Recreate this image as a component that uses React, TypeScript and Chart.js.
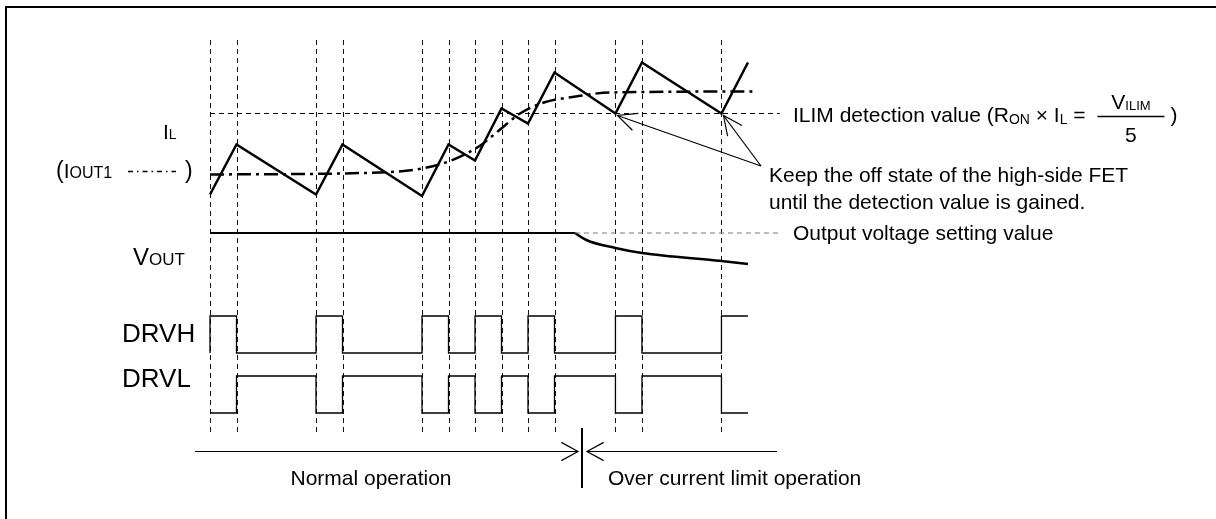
import React, { useEffect, useRef } from "react";
import { Chart, registerables } from "chart.js";

Chart.register(...registerables);

// ---- time grid (switching instants, arbitrary time units) ----
const GUIDE_T = [0, 1, 4, 5, 8, 9, 10, 11, 12, 13, 15.3, 16.3, 19.3];

// ---- inductor current IL (arbitrary units) ----
const IL_T = [0, 1, 4, 5, 8, 9, 10, 11, 12, 13, 15.3, 16.3, 19.3, 20.3];
const IL_A = [1.0, 2.0, 1.0, 2.0, 0.97, 2.0, 1.68, 2.72, 2.42, 3.44, 2.62, 3.64, 2.62, 3.64];

// ---- output current IOUT1 (dash-dot) ----
const IOUT_T = [0, 6.4, 8, 9.1, 10.2, 10.9, 11.7, 12.6, 13.8, 15.1, 20.6];
const IOUT_A = [1.4, 1.44, 1.52, 1.68, 1.98, 2.28, 2.62, 2.84, 2.96, 3.04, 3.06];

// ---- ILIM detection level ----
const ILIM_LEVEL = 2.62;
const ILIM_T = [0, 21.5];

// ---- output voltage ----
const VOUT_T = [0, 13.77, 14.2, 15.3, 16.3, 19.3, 20.3];
const VOUT_V = [1.0, 1.0, 0.93, 0.85, 0.8, 0.72, 0.69];
const VSET_LEVEL = 1.0;
const VSET_T = [13.77, 21.5];

// ---- gate drive signals (logic level) ----
const DRVH_T = [0, 0, 1, 4, 5, 8, 9, 10, 11, 12, 13, 15.3, 16.3, 19.3, 20.3];
const DRVH_S = [0, 1, 0, 1, 0, 1, 0, 1, 0, 1, 0, 1, 0, 1, 1];
const DRVL_T = [0, 1, 4, 5, 8, 9, 10, 11, 12, 13, 15.3, 16.3, 19.3, 20.3];
const DRVL_S = [0, 1, 0, 1, 0, 1, 0, 1, 0, 1, 0, 1, 0, 0];

// ---- text ----
const LABEL_NORMAL = "Normal operation";
const LABEL_OCL = "Over current limit operation";
const LABEL_KEEP1 = "Keep the off state of the high-side FET";
const LABEL_KEEP2 = "until the detection value is gained.";
const LABEL_VSET = "Output voltage setting value";

const FONT = '"Liberation Sans", Arial, Helvetica, sans-serif';

const pts = (xs: number[], ys: number[]) => xs.map((x, i) => ({ x, y: ys[i] }));

function runs(ctx: CanvasRenderingContext2D, x: number, y: number, parts: [string, number, number][]) {
  let cx = x;
  for (const [text, size, dy] of parts) {
    ctx.font = `${size}px ${FONT}`;
    ctx.fillText(text, cx, y + dy);
    cx += ctx.measureText(text).width;
  }
  return cx;
}

function arrowHead(ctx: CanvasRenderingContext2D, tx: number, ty: number, fx: number, fy: number, len: number, half: number) {
  const a = Math.atan2(fy - ty, fx - tx);
  ctx.beginPath();
  ctx.moveTo(tx + len * Math.cos(a + half), ty + len * Math.sin(a + half));
  ctx.lineTo(tx, ty);
  ctx.lineTo(tx + len * Math.cos(a - half), ty + len * Math.sin(a - half));
  ctx.stroke();
}

const guidePlugin = {
  id: "guides",
  beforeDatasetsDraw(chart: any) {
    const ctx: CanvasRenderingContext2D = chart.ctx;
    const xs = chart.scales.x;
    ctx.save();
    ctx.strokeStyle = "#111";
    ctx.lineWidth = 1;
    ctx.setLineDash([5, 4]);
    for (const t of GUIDE_T) {
      const x = Math.round(xs.getPixelForValue(t)) + 0.5;
      ctx.beginPath();
      ctx.moveTo(x, 40);
      ctx.lineTo(x, 434);
      ctx.stroke();
    }
    ctx.restore();
  },
  afterDraw(chart: any) {
    const ctx: CanvasRenderingContext2D = chart.ctx;
    const xs = chart.scales.x;
    const yI = chart.scales.yI;
    ctx.save();
    ctx.fillStyle = "#000";
    ctx.strokeStyle = "#000";
    ctx.textBaseline = "alphabetic";

    // frame (top + left)
    ctx.lineWidth = 2;
    ctx.beginPath();
    ctx.moveTo(1216, 7);
    ctx.lineTo(6, 7);
    ctx.lineTo(6, 519);
    ctx.stroke();

    // left labels
    runs(ctx, 163, 139, [["I", 21, 0], ["L", 14, 0]]);
    const endI = runs(ctx, 56, 178, [["(", 23, 0], ["I", 21, 0], ["OUT1", 16, 0]]);
    ctx.lineWidth = 1.5;
    ctx.setLineDash([5, 4, 1.5, 4]);
    ctx.beginPath();
    ctx.moveTo(Math.max(endI + 7, 128), 171.5);
    ctx.lineTo(176, 171.5);
    ctx.stroke();
    ctx.setLineDash([]);
    runs(ctx, 185, 178, [[")", 23, 0]]);
    runs(ctx, 133, 265, [["V", 24, 0], ["OUT", 17, 0]]);
    runs(ctx, 122, 342, [["DRVH", 26, 0]]);
    runs(ctx, 122, 387, [["DRVL", 26, 0]]);

    // ILIM text with fraction
    const yIl = yI.getPixelForValue(ILIM_LEVEL);
    const base = yIl + 8.5;
    const xe = runs(ctx, 793, base, [
      ["ILIM detection value (R", 21, 0],
      ["ON", 14, 2],
      [" \u00d7 I", 21, 0],
      ["L", 14, 2],
      [" = ", 21, 0],
    ]);
    const b0 = xe + 6, b1 = xe + 73, bc = (b0 + b1) / 2;
    ctx.lineWidth = 1.5;
    ctx.beginPath();
    ctx.moveTo(b0, yIl + 3);
    ctx.lineTo(b1, yIl + 3);
    ctx.stroke();
    ctx.font = `21px ${FONT}`;
    const wV = ctx.measureText("V").width;
    ctx.font = `13px ${FONT}`;
    const wS = ctx.measureText("ILIM").width;
    runs(ctx, bc - (wV + wS) / 2, yIl - 5, [["V", 21, 0], ["ILIM", 13, 1]]);
    ctx.textAlign = "center";
    ctx.font = `21px ${FONT}`;
    ctx.fillText("5", bc, yIl + 28);
    ctx.textAlign = "left";
    ctx.fillText(")", b1 + 6, base);

    // other annotations
    ctx.font = `21px ${FONT}`;
    ctx.fillText(LABEL_KEEP1, 769, 182);
    ctx.fillText(LABEL_KEEP2, 769, 209);
    ctx.fillText(LABEL_VSET, 793, 240);
    ctx.textAlign = "center";
    ctx.fillText(LABEL_NORMAL, 371, 485);
    ctx.textAlign = "left";
    ctx.fillText(LABEL_OCL, 608, 485);

    // pointer arrows to ILIM detection points
    ctx.lineWidth = 1.2;
    const tailX = 761, tailY = 166;
    for (const t of [15.3, 19.3]) {
      const tx = xs.getPixelForValue(t) + 2;
      const ty = yIl + 2;
      ctx.beginPath();
      ctx.moveTo(tailX, tailY);
      ctx.lineTo(tx, ty);
      ctx.stroke();
      arrowHead(ctx, tx, ty, tailX, tailY, 21, 0.44);
    }

    // bottom operation span arrows
    const sepX = 582, ay = 451.5;
    ctx.lineWidth = 1.2;
    ctx.beginPath();
    ctx.moveTo(195, ay);
    ctx.lineTo(sepX - 4, ay);
    ctx.moveTo(sepX + 5, ay);
    ctx.lineTo(777, ay);
    ctx.stroke();
    arrowHead(ctx, sepX - 4, ay, 195, ay, 19, 0.5);
    arrowHead(ctx, sepX + 5, ay, 777, ay, 19, 0.5);
    ctx.lineWidth = 2;
    ctx.beginPath();
    ctx.moveTo(sepX, 428);
    ctx.lineTo(sepX, 488);
    ctx.stroke();

    ctx.restore();
  },
};

export default function App() {
  const ref = useRef<HTMLCanvasElement | null>(null);
  useEffect(() => {
    document.body.style.margin = "0";
    const canvas = ref.current!;
    const line = (extra: any) => ({
      showLine: true,
      pointRadius: 0,
      borderColor: "#000",
      backgroundColor: "#000",
      fill: false,
      tension: 0,
      ...extra,
    });
    const chart = new Chart(canvas, {
      type: "scatter",
      data: {
        datasets: [
          line({ label: "ILIM", data: pts(ILIM_T, ILIM_T.map(() => ILIM_LEVEL)), yAxisID: "yI", borderWidth: 1, borderDash: [5, 4], borderColor: "#000" }),
          line({ label: "Vset", data: pts(VSET_T, VSET_T.map(() => VSET_LEVEL)), yAxisID: "yV", borderWidth: 1, borderDash: [5, 4], borderColor: "#777" }),
          line({ label: "IOUT1", data: pts(IOUT_T, IOUT_A), yAxisID: "yI", borderWidth: 2.5, borderDash: [14, 5, 3, 5], cubicInterpolationMode: "monotone" }),
          line({ label: "IL", data: pts(IL_T, IL_A), yAxisID: "yI", borderWidth: 2.5 }),
          line({ label: "VOUT", data: pts(VOUT_T.slice(0, 2), VOUT_V.slice(0, 2)), yAxisID: "yV", borderWidth: 2 }),
          line({ label: "VOUT2", data: pts(VOUT_T.slice(1), VOUT_V.slice(1)), yAxisID: "yV", borderWidth: 2.5, cubicInterpolationMode: "monotone" }),
          line({ label: "DRVH", data: pts(DRVH_T, DRVH_S), yAxisID: "yH", borderWidth: 1.3, stepped: "before" }),
          line({ label: "DRVL", data: pts(DRVL_T, DRVL_S), yAxisID: "yL", borderWidth: 1.3, stepped: "before" }),
        ],
      },
      options: {
        responsive: false,
        animation: false,
        events: [],
        layout: { padding: 0 },
        plugins: { legend: { display: false }, tooltip: { enabled: false } },
        scales: {
          x: { type: "linear", axis: "x", min: -7.9245, max: 37.962, bounds: "data", display: false },
          yI: { type: "linear", axis: "y", position: "left", min: -5.49, max: 4.89, bounds: "data", display: false },
          yV: { type: "linear", axis: "y", position: "left", min: -1.86, max: 3.33, bounds: "data", display: false },
          yH: { type: "linear", axis: "y", position: "left", min: -4.486, max: 9.541, bounds: "data", display: false },
          yL: { type: "linear", axis: "y", position: "left", min: -2.865, max: 11.162, bounds: "data", display: false },
        },
      } as any,
      plugins: [guidePlugin],
    });
    return () => chart.destroy();
  }, []);
  return (
    <div style={{ width: 1216, height: 519, background: "#fff" }}>
      <canvas ref={ref} width={1216} height={519} style={{ display: "block" }} />
    </div>
  );
}
